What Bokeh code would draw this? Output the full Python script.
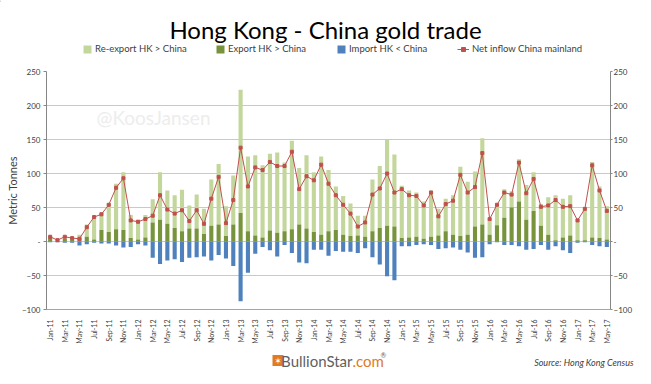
import math
from bokeh.plotting import figure
from bokeh.layouts import column
from bokeh.models import (ColumnDataSource, Range1d, LinearAxis, FixedTicker,
                          Label, Legend, LegendItem)
from bokeh.embed import file_html
from bokeh.resources import INLINE

# ---------------- data ----------------
MONTH_ABBR = ["Jan", "Feb", "Mar", "Apr", "May", "Jun",
              "Jul", "Aug", "Sep", "Oct", "Nov", "Dec"]
months = [f"{m}-{y % 100:02d}" for y in range(2011, 2018) for m in MONTH_ABBR][:77]

reexport = [3, 2, 4, 3, 5, 18, 34, 26, 42, 67, 85, 34,
            29, 33, 34, 70, 49, 48, 61, 34, 50, 37, 68, 89,
            44, 72, 181, 110, 118, 106, 113, 118, 101, 130, 83, 108,
            88, 115, 90, 64, 57, 48, 29, 31, 76, 91, 127, 106,
            77, 69, 65, 55, 68, 39, 48, 58, 102, 78, 81, 127,
            24, 30, 42, 24, 62, 51, 57, 32, 55, 66, 57, 59,
            32, 47, 111, 76, 49]
export = [5, 1, 4, 3, 5, 7, 3, 17, 14, 18, 17, 5,
          3, 6, 28, 32, 26, 20, 15, 19, 19, 11, 23, 25,
          8, 25, 42, 15, 9, 6, 16, 13, 15, 18, 25, 19,
          14, 10, 15, 17, 10, 8, 9, 7, 15, 20, 23, 22,
          5, 6, 7, 4, 7, 9, 15, 10, 8, 10, 22, 25,
          10, 24, 35, 50, 59, 32, 45, 23, 10, 2, 6, 9,
          2, 2, 6, 5, 3]
imports = [-1, -1, -2, -2, -6, -4, -2, -3, -3, -6, -9, -8,
           -4, -6, -24, -33, -28, -26, -30, -24, -23, -22, -28, -20,
           -25, -36, -88, -46, -18, -8, -13, -22, -5, -17, -31, -32,
           -12, -12, -21, -14, -15, -15, -17, -10, -23, -34, -51, -57,
           -7, -7, -5, -4, -5, -11, -10, -9, -12, -16, -24, -23,
           -4, -1, -5, -5, -7, -12, -11, -5, -12, -7, -13, -17,
           -2, -1, -5, -7, -8]
net = [7, 2, 7, 5, 4, 21, 36, 40, 54, 79, 93, 31,
       29, 33, 38, 68, 47, 41, 46, 30, 46, 26, 63, 95,
       27, 61, 138, 81, 109, 105, 117, 111, 111, 132, 77, 96,
       90, 113, 85, 68, 54, 41, 22, 28, 69, 78, 100, 72,
       77, 68, 67, 53, 72, 37, 55, 60, 98, 72, 80, 130,
       33, 54, 72, 69, 116, 71, 92, 51, 53, 61, 51, 52,
       31, 48, 112, 75, 45]
y_ticks = [-100, -50, 0, 50, 100, 150, 200, 250]
legend_labels = ["Re-export HK > China", "Export HK > China",
                 "Import HK < China", "Net inflow China mainland"]

# ---------------- styles ----------------
C_REEXP = "#C3D69B"
C_EXP = "#77933C"
C_IMP = "#4F81BD"
C_NET = "#C0504D"
FONT = "Lato"
TXT = "#404040"

W = 635
H_HEAD, H_FOOT = 60, 22
ML, MR, MT, MB = 46, 23, 11, 32
FRAME_H = 243
H_MAIN = MT + FRAME_H + MB

def blank(height, y0):
    f = figure(width=W, height=height, x_range=Range1d(0, W),
               y_range=Range1d(y0 + height, y0), output_backend="svg",
               toolbar_location=None, x_axis_type=None, y_axis_type=None,
               min_border=0, frame_align=False)
    f.outline_line_color = None
    f.grid.visible = False
    f.background_fill_color = "white"
    f.border_fill_color = "white"
    return f

# ---------------- header: title + legend ----------------
head = blank(H_HEAD, 0)
head.add_layout(Label(x=325, y=29, text="Hong Kong - China gold trade",
                      text_font=FONT, text_font_size="24px",
                      text_color="#000000", text_align="center",
                      text_baseline="alphabetic"))

# legend swatch renderers (single point kept outside the visible header area)
off = dict(x=[-100], y=[0], top=[1])
hr_re = head.vbar(x="x", top="top", width=1, source=ColumnDataSource(off),
                  fill_color=C_REEXP, line_color=None)
hr_ex = head.vbar(x="x", top="top", width=1, source=ColumnDataSource(off),
                  fill_color=C_EXP, line_color=None)
hr_im = head.vbar(x="x", top="top", width=1, source=ColumnDataSource(off),
                  fill_color=C_IMP, line_color=None)
hr_ln = head.line(x="x", y="y", source=ColumnDataSource(off),
                  line_color=C_NET, line_width=1)
hr_mk = head.scatter(x="x", y="y", source=ColumnDataSource(off),
                     marker="square", size=3, fill_color=C_NET,
                     line_color=C_NET)

legend_specs = [(legend_labels[0], [hr_re], 82, 10),
                (legend_labels[1], [hr_ex], 215, 10),
                (legend_labels[2], [hr_im], 336, 10),
                (legend_labels[3], [hr_ln, hr_mk], 457, 12)]
for text, rends, lx, gw in legend_specs:
    lg = Legend(items=[LegendItem(label=text, renderers=rends)],
                location=(lx, 6), orientation="horizontal")
    lg.padding = 0
    lg.margin = 0
    lg.glyph_width = gw
    lg.glyph_height = 10
    lg.label_height = 10
    lg.label_width = 10
    lg.label_standoff = 3
    lg.label_text_font = FONT
    lg.label_text_font_size = "9.5px"
    lg.label_text_color = TXT
    lg.border_line_alpha = 0
    lg.background_fill_alpha = 0
    head.add_layout(lg, "center")

# ---------------- main chart ----------------
idx = list(range(len(months)))
src = ColumnDataSource(dict(
    x=idx,
    exp_top=export,
    re_bottom=export,
    re_top=[a + b for a, b in zip(export, reexport)],
    imp=imports,
    zero=[0] * len(idx),
    net=net,
))

p = figure(width=W, height=H_MAIN, x_range=Range1d(-0.5, len(months) - 0.5),
           y_range=Range1d(-100, 250), output_backend="svg",
           toolbar_location=None, min_border_left=ML, min_border_right=MR,
           min_border_top=MT, min_border_bottom=MB, frame_align=False)
p.outline_line_color = None
p.background_fill_color = "white"
p.border_fill_color = "white"
p.xgrid.grid_line_color = None
p.ygrid.grid_line_color = "#C9C9C9"
p.ygrid.ticker = FixedTicker(ticks=y_ticks)

BW = 0.56
p.vbar(x="x", bottom="re_bottom", top="re_top", width=BW, source=src,
       fill_color=C_REEXP, line_color=None)
p.vbar(x="x", bottom="zero", top="exp_top", width=BW, source=src,
       fill_color=C_EXP, line_color=None)
p.vbar(x="x", bottom="imp", top="zero", width=BW, source=src,
       fill_color=C_IMP, line_color=None)
p.line(x="x", y="net", source=src, line_color=C_NET, line_width=1)
p.scatter(x="x", y="net", source=src, marker="square", size=3,
          fill_color=C_NET, line_color=C_NET)

xa = p.xaxis[0]
xa.ticker = FixedTicker(ticks=list(range(0, len(months), 2)))
xa.major_label_overrides = {i: months[i] for i in range(0, len(months), 2)}
xa.major_label_orientation = math.pi / 2
xa.major_label_text_font = FONT
xa.major_label_text_font_size = "7px"
xa.major_label_text_color = TXT
xa.major_tick_line_color = None
xa.minor_tick_line_color = None
xa.axis_line_color = "#A6A6A6"
xa.major_label_standoff = 4

def style_y(ax, tick_out, standoff):
    ax.ticker = FixedTicker(ticks=y_ticks)
    ax.major_label_overrides = {0: "-"}
    ax.major_label_text_font = FONT
    ax.major_label_text_font_size = "8px"
    ax.major_label_text_color = TXT
    ax.major_tick_in = 0
    ax.major_tick_out = tick_out
    ax.major_tick_line_color = "#868686"
    ax.minor_tick_line_color = None
    ax.axis_line_color = "#868686"
    ax.major_label_standoff = standoff

ya = p.yaxis[0]
style_y(ya, 3, 3)
ya.axis_label = "Metric Tonnes"
ya.axis_label_text_font = FONT
ya.axis_label_text_font_size = "11px"
ya.axis_label_text_font_style = "normal"
ya.axis_label_text_color = TXT
ya.axis_label_standoff = 0
ra = LinearAxis()
style_y(ra, 2, 1)
p.add_layout(ra, "right")

p.add_layout(Label(x=107, y=192, x_units="screen", y_units="screen",
                   text="@KoosJansen", text_font=FONT, text_font_size="19px",
                   text_color="#EDEDED", text_align="center",
                   text_baseline="middle"))

# ---------------- footer: logo + source ----------------
Y0F = H_HEAD + H_MAIN
LOGO_Y = Y0F + 14
foot = blank(H_FOOT, Y0F)
foot.rect(x=[277.5], y=[LOGO_Y], width=11, height=11,
          fill_color="#E07B24", line_color=None)
foot.add_layout(Label(x=277.5, y=LOGO_Y, text="\u2736",
                      text_font="DejaVu Sans", text_font_size="9px",
                      text_color="white", text_align="center",
                      text_baseline="middle"))
foot.add_layout(Label(x=352, y=LOGO_Y, text="BullionStar",
                      text_font=FONT, text_font_size="15px",
                      text_color="#5F5F5F", text_align="right",
                      text_baseline="middle"))
foot.add_layout(Label(x=352, y=LOGO_Y, text=".com",
                      text_font=FONT, text_font_size="15px",
                      text_color="#E07B24", text_align="left",
                      text_baseline="middle"))
foot.add_layout(Label(x=380, y=LOGO_Y - 6, text="\u00ae",
                      text_font=FONT, text_font_size="7px",
                      text_color="#5F5F5F", text_align="left",
                      text_baseline="middle"))
foot.add_layout(Label(x=633, y=Y0F + 16, text="Source: Hong Kong Census",
                      text_font=FONT, text_font_size="9px",
                      text_font_style="italic", text_color=TXT,
                      text_align="right", text_baseline="middle"))

layout = column(head, p, foot, spacing=0)
open("out.html", "w").write(file_html(layout, INLINE))
